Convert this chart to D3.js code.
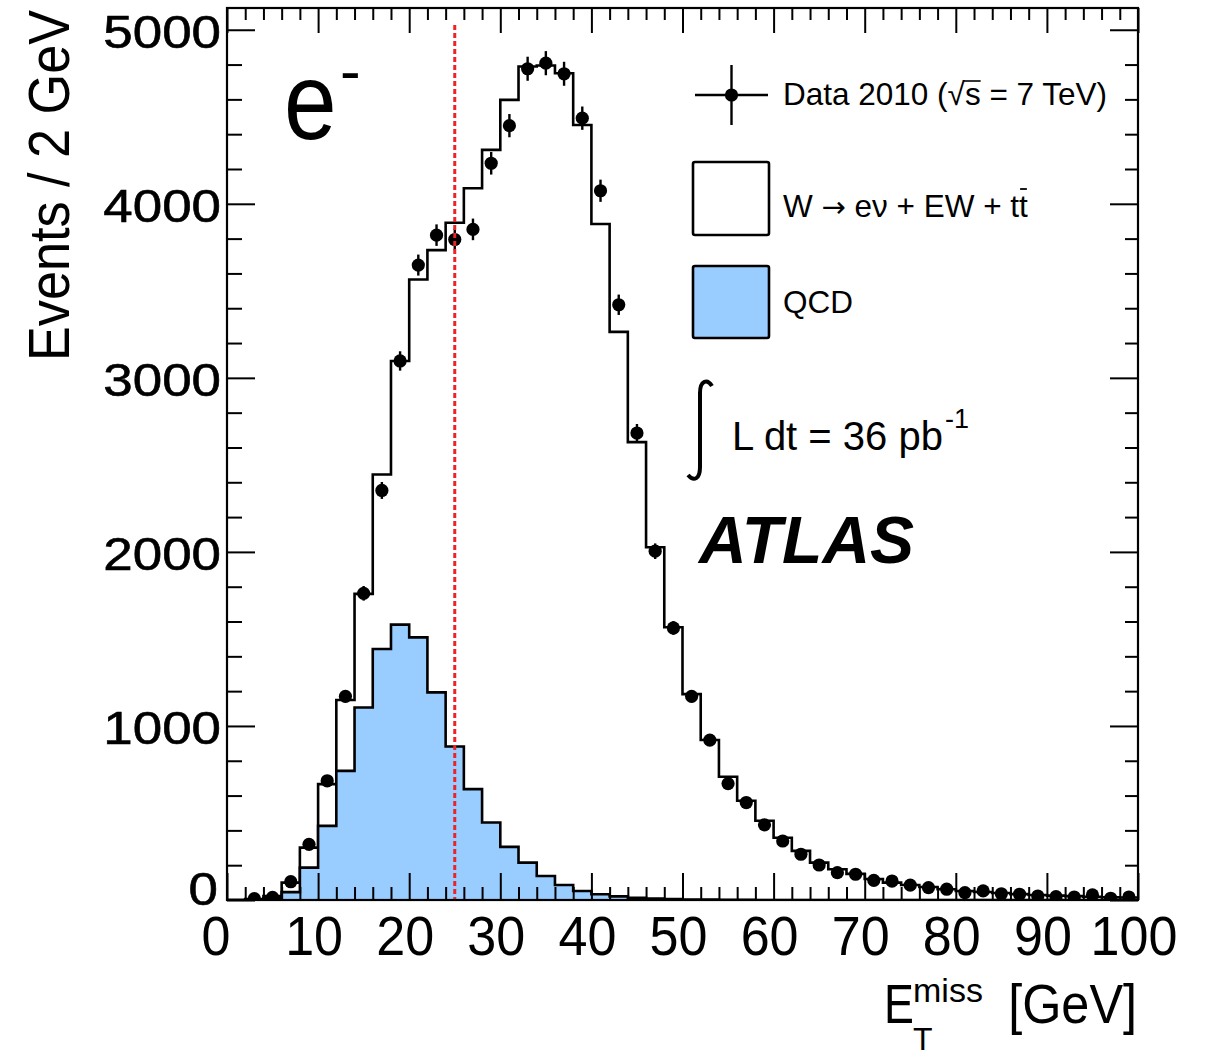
<!DOCTYPE html>
<html>
<head>
<meta charset="utf-8">
<script src="https://cdn.jsdelivr.net/npm/d3@7"></script>
<style>
  body { margin: 0; background: #fff; }
  svg { display: block; }
  text { font-family: "Liberation Sans", Arial, Helvetica, sans-serif; fill: #000; }
</style>
</head>
<body>
<svg id="chart" width="1212" height="1059"></svg>
<script>
// bin edges of the missing-ET histogram (2 GeV bins)
const binEdges = [0, 2, 4, 6, 8, 10, 12, 14, 16, 18, 20, 22, 24, 26, 28, 30, 32, 34, 36, 38, 40,
  42, 44, 46, 48, 50, 52, 54, 56, 58, 60, 62, 64, 66, 68, 70, 72, 74, 76, 78, 80,
  82, 84, 86, 88, 90, 92, 94, 96, 98, 100];

// data 2010, one value per bin
const dataCounts = [0, 8, 15, 105, 320, 685, 1170, 1762, 2353, 3097,
  3648, 3820, 3795, 3853, 4233, 4449, 4776, 4808, 4747, 4492,
  4075, 3420, 2683, 2004, 1563, 1170, 919, 669, 560, 432,
  339, 263, 201, 157, 148, 113, 109, 85, 71, 62,
  42, 52, 36, 33, 23, 19, 17, 29, 10, 17];

// stacked MC: W -> e nu + EW + ttbar on top of QCD (total of the stack)
const stackTotal = [0, 5, 22, 100, 301, 666, 1149, 1759, 2445, 3097,
  3565, 3734, 3891, 4089, 4310, 4597, 4789, 4795, 4750, 4453,
  3884, 3264, 2631, 2027, 1567, 1183, 919, 708, 570, 455,
  358, 282, 215, 177, 150, 121, 100, 86, 75, 62,
  52, 46, 40, 34, 29, 25, 22, 19, 16, 14];

// QCD background
const qcdCounts = [0, 2, 10, 45, 186, 426, 742, 1106, 1442, 1582,
  1509, 1193, 882, 637, 445, 305, 215, 138, 86, 52,
  33, 21, 13, 8, 5, 3, 2, 1, 1, 0,
  0, 0, 0, 0, 0, 0, 0, 0, 0, 0,
  0, 0, 0, 0, 0, 0, 0, 0, 0, 0];

const xTickLabels = [0, 10, 20, 30, 40, 50, 60, 70, 80, 90, 100];
const yTickLabels = [0, 1000, 2000, 3000, 4000, 5000];
const cutValue = 25;

const svg = d3.select("#chart");
const x = d3.scaleLinear().domain([0, 100]).range([227, 1138]);
const y = d3.scaleLinear().domain([0, 5125]).range([900, 8]);

svg.append("defs").append("clipPath").attr("id", "plot")
  .append("rect").attr("x", x(0)).attr("y", y(5125)).attr("width", x(100) - x(0)).attr("height", y(0) - y(5125));

const plot = svg.append("g").attr("clip-path", "url(#plot)");

// histogram helper: step outline through bin edges
function histPoints(vals) {
  return binEdges.map((e, i) => ({ e: e, v: vals[Math.min(i, vals.length - 1)] }));
}
const area = d3.area().curve(d3.curveStepAfter).x(d => x(d.e)).y0(y(0)).y1(d => y(d.v));
const line = d3.line().curve(d3.curveStepAfter).x(d => x(d.e)).y(d => y(d.v));

plot.append("path").datum(histPoints(stackTotal)).attr("d", area).attr("fill", "#fff");
plot.append("path").datum(histPoints(stackTotal)).attr("d", line)
  .attr("fill", "none").attr("stroke", "#000").attr("stroke-width", 2.6);

plot.append("path").datum(histPoints(qcdCounts)).attr("d", area).attr("fill", "#99ccff");
plot.append("path").datum(histPoints(qcdCounts)).attr("d", line)
  .attr("fill", "none").attr("stroke", "#000").attr("stroke-width", 2.6);

// data points with statistical error bars
const pts = dataCounts.map((v, i) => ({ c: (binEdges[i] + binEdges[i + 1]) / 2, v: v })).filter(d => d.v > 0);
const gData = plot.append("g");
gData.selectAll("line").data(pts).join("line")
  .attr("x1", d => x(d.c)).attr("x2", d => x(d.c))
  .attr("y1", d => y(d.v + Math.sqrt(d.v))).attr("y2", d => y(d.v - Math.sqrt(d.v)))
  .attr("stroke", "#000").attr("stroke-width", 2.4);
gData.selectAll("circle").data(pts).join("circle")
  .attr("cx", d => x(d.c)).attr("cy", d => y(d.v)).attr("r", 6.6).attr("fill", "#000");

// cut line
plot.append("line")
  .attr("x1", x(cutValue)).attr("x2", x(cutValue)).attr("y1", 25).attr("y2", y(0))
  .attr("stroke", "#ec2327").attr("stroke-width", 3).attr("stroke-dasharray", "5,3");

// ticks on all four sides
const yMinor = d3.range(0, 5125, 200).filter(v => v % 1000 !== 0);
const xMinor = d3.range(0, 101, 2).filter(v => v % 10 !== 0);
function ticks(axis, tr, vals, size) {
  const g = svg.append("g").attr("transform", tr)
    .call(axis.tickValues(vals).tickSize(size).tickFormat(""));
  g.select(".domain").remove();
  g.selectAll("line").attr("stroke", "#000").attr("stroke-width", 2);
}
ticks(d3.axisRight(y), `translate(${x(0)},0)`, yTickLabels, 28);
ticks(d3.axisRight(y), `translate(${x(0)},0)`, yMinor, 15);
ticks(d3.axisLeft(y), `translate(${x(100)},0)`, yTickLabels, 28);
ticks(d3.axisLeft(y), `translate(${x(100)},0)`, yMinor, 13);
ticks(d3.axisTop(x), `translate(0,${y(0)})`, xTickLabels, 27);
ticks(d3.axisTop(x), `translate(0,${y(0)})`, xMinor, 13);
ticks(d3.axisBottom(x), `translate(0,${y(5125)})`, xTickLabels, 25);
ticks(d3.axisBottom(x), `translate(0,${y(5125)})`, xMinor, 12);

svg.append("rect").attr("x", x(0)).attr("y", y(5125)).attr("width", x(100) - x(0)).attr("height", y(0) - y(5125))
  .attr("fill", "none").attr("stroke", "#000").attr("stroke-width", 2.2);

// tick labels
svg.append("g").selectAll("text").data(yTickLabels).join("text")
  .attr("transform", d => `translate(${d === 0 ? 218 : 221},${d === 0 ? 905 : y(d) + 18}) scale(1.15,1)`)
  .attr("text-anchor", "end").attr("font-size", 46)
  .attr("stroke", "#000").attr("stroke-width", 0.6).text(d => d);
svg.append("g").selectAll("text").data(xTickLabels).join("text")
  .attr("transform", d => `translate(${x(d) - (d === 0 ? 11 : 4)},955) scale(0.93,1)`)
  .attr("text-anchor", "middle").attr("font-size", 56).text(d => d);

// axis titles
svg.append("text").attr("transform", "translate(69,10) rotate(-90) scale(0.9,1)")
  .attr("text-anchor", "end").attr("font-size", 58).text("Events / 2 GeV");

svg.append("text").attr("transform", "translate(884,1023) scale(0.8,1)").attr("font-size", 56).text("E");
svg.append("text").attr("x", 913).attr("y", 1002).attr("font-size", 34).text("miss");
svg.append("text").attr("x", 913).attr("y", 1050).attr("font-size", 32).text("T");
svg.append("text").attr("transform", "translate(1137,1023) scale(0.9,1)")
  .attr("text-anchor", "end").attr("font-size", 56).text("[GeV]");

// e- label
svg.append("text").attr("transform", "translate(284,139) scale(0.86,1)").attr("font-size", 110).text("e");
svg.append("text").attr("x", 340).attr("y", 92).attr("font-size", 62).text("-");

// legend
const lg = svg.append("g");
lg.append("line").attr("x1", 695).attr("x2", 768).attr("y1", 95).attr("y2", 95).attr("stroke", "#000").attr("stroke-width", 2.4);
lg.append("line").attr("x1", 731.5).attr("x2", 731.5).attr("y1", 65).attr("y2", 125).attr("stroke", "#000").attr("stroke-width", 2.4);
lg.append("circle").attr("cx", 731.5).attr("cy", 95).attr("r", 6.6).attr("fill", "#000");

const t1 = lg.append("text").attr("x", 783).attr("y", 105).attr("font-size", 31.5).text("Data 2010 (\u221As = 7 TeV)");
const s0 = t1.node().getSubStringLength(0, 12), s1 = t1.node().getSubStringLength(0, 13);
lg.append("line").attr("x1", 783 + s0 - 2).attr("x2", 783 + s1).attr("y1", 81).attr("y2", 81)
  .attr("stroke", "#000").attr("stroke-width", 1.6);

lg.append("rect").attr("x", 693).attr("y", 162).attr("width", 76).attr("height", 73).attr("rx", 2)
  .attr("fill", "#fff").attr("stroke", "#000").attr("stroke-width", 2.6);
const t2 = lg.append("text").attr("x", 783).attr("y", 217).attr("font-size", 31.5);
t2.append("tspan").text("W ");
t2.append("tspan").attr("font-family", "DejaVu Sans").attr("font-size", 29).text("\u2192");
t2.append("tspan").text(" e\u03BD + EW + tt");
const tn = t2.node(), nChars = tn.getNumberOfChars();
const w0 = tn.getSubStringLength(0, nChars - 1), w1 = tn.getComputedTextLength();
lg.append("line").attr("x1", 783 + w0 + 1).attr("x2", 783 + w1 - 1).attr("y1", 189).attr("y2", 189)
  .attr("stroke", "#000").attr("stroke-width", 1.8);

lg.append("rect").attr("x", 693).attr("y", 266).attr("width", 76).attr("height", 72).attr("rx", 2)
  .attr("fill", "#99ccff").attr("stroke", "#000").attr("stroke-width", 2.6);
lg.append("text").attr("x", 783).attr("y", 313).attr("font-size", 31.5).text("QCD");

// luminosity
lg.append("path").attr("d", "M712,386 C707,378 700,381 700,393 L700,467 C700,479 694,482 688,475")
  .attr("fill", "none").attr("stroke", "#000").attr("stroke-width", 4);
const lt = lg.append("text").attr("x", 732).attr("y", 450).attr("font-size", 40).text("L dt = 36 pb");
lg.append("text").attr("x", 732 + lt.node().getComputedTextLength() + 2).attr("y", 428)
  .attr("font-size", 27).text("-1");

lg.append("text").attr("x", 699).attr("y", 563).attr("font-size", 66)
  .attr("font-weight", "bold").attr("font-style", "italic").text("ATLAS");
</script>
</body>
</html>
